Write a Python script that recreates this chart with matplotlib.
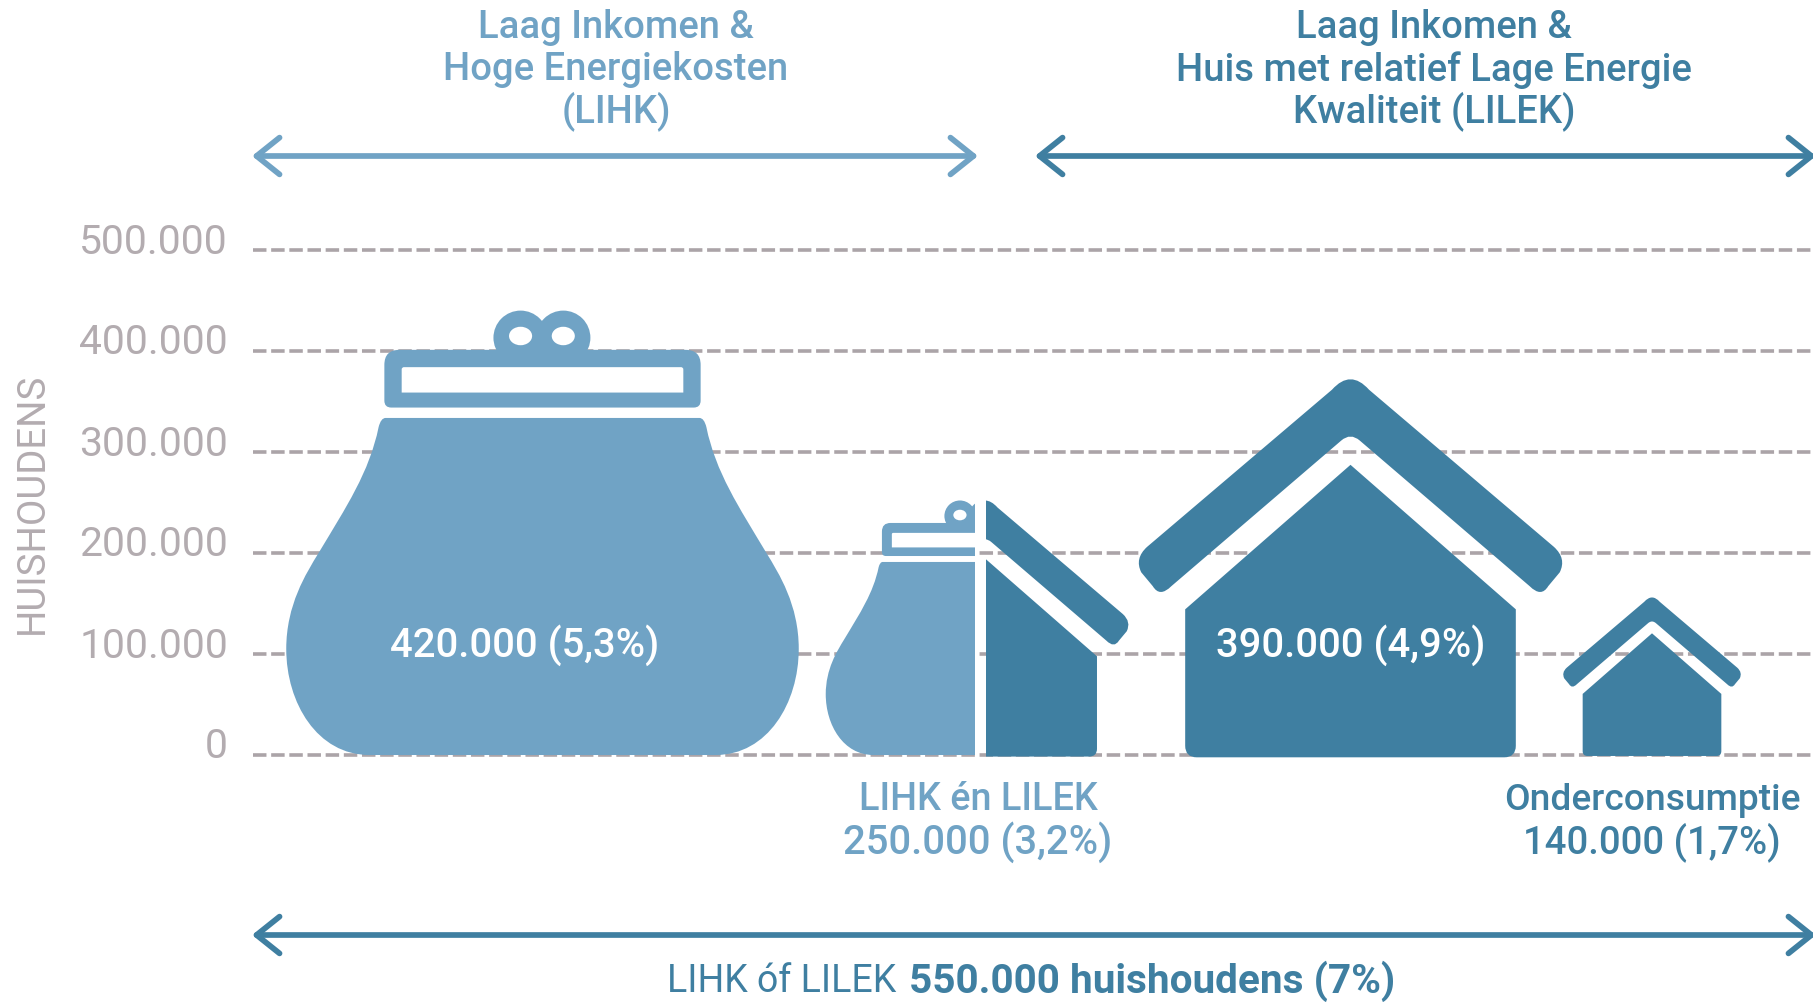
import matplotlib
matplotlib.use('Agg')
import matplotlib.pyplot as plt
from matplotlib.path import Path
from matplotlib.patches import PathPatch, Rectangle
from matplotlib.transforms import Affine2D

plt.rcParams['font.family'] = ['Roboto', 'DejaVu Sans']

LIGHT = '#70a3c5'
DARK = '#3f7fa1'
GREY = '#aba4a8'
TICK_GREY = '#b3acb0'

# waarden uit de figuur
tick_values = [0, 100000, 200000, 300000, 400000, 500000]
tick_labels = ['0', '100.000', '200.000', '300.000', '400.000', '500.000']
y_title = 'HUISHOUDENS'

icon_labels = ['420.000 (5,3%)', '250.000 (3,2%)', '390.000 (4,9%)', '140.000 (1,7%)']
purse_tops = [440000, 252000]
house_tops = [252000, 372000, 156000]

W, H = 1813, 1002
fig = plt.figure(figsize=(W / 100, H / 100), dpi=100)
ax = fig.add_axes([253 / W, 1 - 755 / H, (W - 253) / W, 505 / H])
ax.set_xlim(253, W)
ax.set_ylim(0, 500000)
px_per_value = 505 / 500000
to_px = Affine2D().scale(1, -1).translate(0, H)  # pixels van boven gemeten

ax.set_yticks(tick_values)
ax.set_yticklabels(tick_labels, fontsize=29.4, color=TICK_GREY)
ax.set_xticks([])
ax.tick_params(axis='y', length=0, pad=18)
for lab in ax.get_yticklabels():
    lab.set_transform(lab.get_transform() + Affine2D().translate(0, 12))
ax.set_axisbelow(True)
ax.grid(axis='y', color=GREY, linewidth=2.6, linestyle=(0, (3.73, 1.3)), clip_on=False)
for s in ax.spines.values():
    s.set_visible(False)


def make_path(pieces):
    verts, codes = [], []
    for code, pts in pieces:
        verts.extend(pts)
        codes.extend([code] * len(pts))
    return verts, codes


# purse template
PURSE_H = 385.0
body_right = [
    (Path.LINETO, [(136, 292)]),
    (Path.CURVE3, [(140, 292), (142, 284)]),
    (Path.CURVE4, [(150, 245), (170, 215), (194, 175)]),
    (Path.CURVE4, [(205, 157), (222, 130), (222, 92)]),
    (Path.CURVE4, [(222, 45), (195, 0), (150, 0)]),
]
body_left = [
    (Path.LINETO, [(-150, 0)]),
    (Path.CURVE4, [(-195, 0), (-222, 45), (-222, 92)]),
    (Path.CURVE4, [(-222, 130), (-205, 157), (-194, 175)]),
    (Path.CURVE4, [(-170, 215), (-150, 245), (-142, 284)]),
    (Path.CURVE3, [(-140, 292), (-136, 292)]),
]
frame = [
    (Path.MOVETO, [(-124, 351)]),
    (Path.LINETO, [(124, 351)]),
    (Path.CURVE3, [(137, 351), (137, 338)]),
    (Path.LINETO, [(137, 307)]),
    (Path.CURVE3, [(137, 301), (131, 301)]),
    (Path.LINETO, [(-131, 301)]),
    (Path.CURVE3, [(-137, 301), (-137, 307)]),
    (Path.LINETO, [(-137, 338)]),
    (Path.CURVE3, [(-137, 351), (-124, 351)]),
]
hole = [
    (Path.MOVETO, [(-120, 336)]),
    (Path.CURVE3, [(-122, 336), (-122, 334)]),
    (Path.LINETO, [(-122, 314)]),
    (Path.LINETO, [(122, 314)]),
    (Path.LINETO, [(122, 334)]),
    (Path.CURVE3, [(122, 336), (120, 336)]),
    (Path.LINETO, [(-120, 336)]),
]


def transform(pts, cx, scale):
    return [(cx + u * scale * px_per_value, v * scale) for u, v in pts]


def add_shape(pieces, cx, scale, color, clip=None, z=3):
    verts, codes = make_path(pieces)
    p = PathPatch(Path(transform(verts, cx, scale), codes), fc=color, ec='none', zorder=z, clip_on=False)
    ax.add_patch(p)
    if clip is not None:
        p.set_clip_path(clip)
        p.set_clip_on(True)
    return p


def add_purse(cx, top, clip=None):
    scale = top / PURSE_H
    add_shape([(Path.MOVETO, [(-136, 292)])] + body_right + body_left, cx, scale, LIGHT, clip)
    add_shape(frame, cx, scale, LIGHT, clip, z=3)
    add_shape(hole, cx, scale, 'white', clip, z=4)
    k = Path.unit_circle()
    for kx in [-19, 18]:
        verts = [(kx + 23.5 * a, 361.5 + 23.5 * b) for a, b in k.vertices]
        knob = PathPatch(Path(transform(verts, cx, scale), k.codes), fc=LIGHT, ec='none', zorder=3, clip_on=False)
        ax.add_patch(knob)
        verts = [(kx + 10 * a, 363 + 8 * b) for a, b in k.vertices]
        eye = PathPatch(Path(transform(verts, cx, scale), k.codes), fc='white', ec='none', zorder=5, clip_on=False)
        ax.add_patch(eye)
        if clip is not None:
            knob.set_clip_path(clip)
            eye.set_clip_path(clip)
            knob.set_clip_on(True)
            eye.set_clip_on(True)


# house template
HOUSE_H = 325.0
roof = [
    (Path.MOVETO, [(-16, 316)]),
    (Path.LINETO, [(-176, 180)]),
    (Path.CURVE3, [(-187, 170), (-181, 158)]),
    (Path.LINETO, [(-171, 146)]),
    (Path.CURVE3, [(-165, 136), (-155, 146)]),
    (Path.LINETO, [(-8, 272)]),
    (Path.CURVE3, [(0, 279), (8, 272)]),
    (Path.LINETO, [(155, 146)]),
    (Path.CURVE3, [(165, 136), (171, 146)]),
    (Path.LINETO, [(181, 158)]),
    (Path.CURVE3, [(187, 170), (176, 180)]),
    (Path.LINETO, [(16, 316)]),
    (Path.CURVE3, [(0, 334), (-16, 316)]),
]
house_body = [
    (Path.MOVETO, [(0, 251)]),
    (Path.LINETO, [(143, 126)]),
    (Path.LINETO, [(143, 8)]),
    (Path.CURVE3, [(143, -2), (133, -2)]),
    (Path.LINETO, [(-133, -2)]),
    (Path.CURVE3, [(-143, -2), (-143, 8)]),
    (Path.LINETO, [(-143, 126)]),
    (Path.LINETO, [(0, 251)]),
]


def add_house(cx, top, clip=None):
    scale = top / HOUSE_H
    add_shape(roof, cx, scale, DARK, clip)
    add_shape(house_body, cx, scale, DARK, clip)


# grote portemonnee
add_purse(542.5, purse_tops[0])

# half om half
clip_left = Rectangle((0, -100000), 975, 800000, transform=ax.transData)
clip_right = Rectangle((986, -100000), 900, 800000, transform=ax.transData)
add_purse(972.5, purse_tops[1], clip_left)
add_house(985, house_tops[0], clip_right)

add_house(1350.5, house_tops[1])
add_house(1652, house_tops[2])

# teksten in en onder de iconen
ax.text(525, 645, icon_labels[0], transform=to_px, color='white', fontsize=28.8, fontweight='medium',
        ha='center', va='center', zorder=6)
ax.text(1351, 645, icon_labels[2], transform=to_px, color='white', fontsize=28.8, fontweight='medium',
        ha='center', va='center', zorder=6)


def txt(x, y, s, color, size=27.5, weight='medium'):
    fig.text(x, y, s, transform=to_px, color=color, fontsize=size, fontweight=weight, ha='center', va='center')


txt(978, 800, 'LIHK én LILEK', LIGHT, 27.3)
txt(978, 842, icon_labels[1], LIGHT, 28.8)
txt(1652, 800, 'Onderconsumptie', DARK, 26.7)
txt(1652, 842, icon_labels[3], DARK, 27.6)

for y, s in zip([27, 70, 111], ['Laag Inkomen &', 'Hoge Energiekosten', '(LIHK)']):
    txt(616, y, s, LIGHT)
for y, s in zip([27, 70, 111], ['Laag Inkomen &', 'Huis met relatief Lage Energie', 'Kwaliteit (LILEK)']):
    txt(1434, y, s, DARK)

fig.text(32, 503, y_title, transform=to_px, color=TICK_GREY, fontsize=27.6, rotation=90,
         family=['Liberation Sans Narrow', 'Roboto'], ha='center', va='center')

# pijlen
for x0, x1, y, color in [(252, 978, 156, LIGHT), (1035, 1816, 156, DARK), (252, 1816, 935, DARK)]:
    ax.annotate('', xy=(x1, y), xytext=(x0, y), xycoords=to_px, textcoords=to_px, annotation_clip=False,
                arrowprops=dict(arrowstyle='<->,head_length=1.15,head_width=0.92', mutation_scale=14.4,
                                color=color, lw=4.1, shrinkA=0, shrinkB=0))

fig.text(896, 981, 'LIHK óf LILEK', transform=to_px, color=DARK, fontsize=27, ha='right', va='center')
fig.text(909, 981, '550.000 huishoudens (7%)', transform=to_px, color=DARK, fontsize=29.2, fontweight='bold',
         ha='left', va='center')

fig.savefig('out.png', dpi=100)
